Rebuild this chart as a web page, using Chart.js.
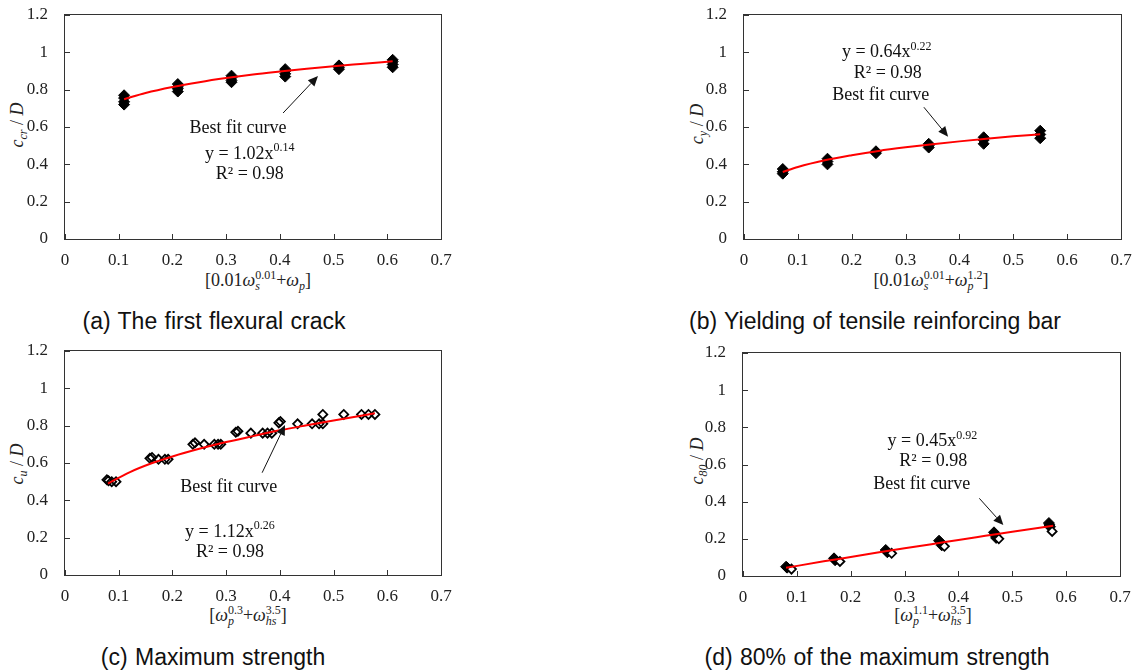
<!DOCTYPE html>
<html>
<head>
<meta charset="utf-8">
<script src="https://cdn.jsdelivr.net/npm/chart.js@4.4.0/dist/chart.umd.min.js"></script>
<style>
html,body{margin:0;padding:0;background:#fff;}
#wrap{position:relative;width:1137px;height:671px;overflow:hidden;background:#fff;}
#wrap canvas{position:absolute;}
.frame{position:absolute;box-sizing:border-box;border:1.5px solid #333;pointer-events:none;}
.lbl{position:absolute;white-space:nowrap;transform:translate(-50%,-50%);font-family:"Liberation Serif","Times New Roman",serif;color:#222;font-size:18px;line-height:1;}
.ytl{transform:translate(-50%,-50%) rotate(-90deg);}
.cap{position:absolute;white-space:nowrap;transform:translate(-50%,-50%);font-family:"Liberation Sans",Arial,sans-serif;font-size:23px;color:#111;line-height:1;word-spacing:1px;}
.ss{display:inline-block;vertical-align:-4px;line-height:11px;font-size:12px;text-align:left;}
.ss>span{display:block;}
.sb{font-size:12px;position:relative;top:4px;}
</style>
</head>
<body>
<div id="wrap">
  <div class="lbl ytl" style="left:17px;top:125px;"><i>c</i><span class="sb"><i>cr</i></span> / <i>D</i></div>
  <div class="lbl ytl" style="left:697px;top:124px;"><i>c</i><span class="sb"><i>y</i></span> / <i>D</i></div>
  <div class="lbl ytl" style="left:17px;top:464px;"><i>c</i><span class="sb"><i>u</i></span> / <i>D</i></div>
  <div class="lbl ytl" style="left:697px;top:461px;"><i>c</i><span class="sb"><i>80</i></span> / <i>D</i></div>

  <div class="lbl" style="left:258px;top:281px;">[0.01<i>ω</i><span class="ss"><span>0.01</span><span><i>s</i></span></span>+<i>ω</i><span class="sb"><i>p</i></span>]</div>
  <div class="lbl" style="left:931px;top:281px;">[0.01<i>ω</i><span class="ss"><span>0.01</span><span><i>s</i></span></span>+<i>ω</i><span class="ss"><span>1.2</span><span><i>p</i></span></span>]</div>
  <div class="lbl" style="left:248px;top:616px;">[<i>ω</i><span class="ss"><span>0.3</span><span><i>p</i></span></span>+<i>ω</i><span class="ss"><span>3.5</span><span><i>hs</i></span></span>]</div>
  <div class="lbl" style="left:933px;top:616px;">[<i>ω</i><span class="ss"><span>1.1</span><span><i>p</i></span></span>+<i>ω</i><span class="ss"><span>3.5</span><span><i>hs</i></span></span>]</div>

  <div class="cap" style="left:214px;top:321px;">(a) The first flexural crack</div>
  <div class="cap" style="left:875px;top:321px;">(b) Yielding of tensile reinforcing bar</div>
  <div class="cap" style="left:213px;top:657px;">(c) Maximum strength</div>
  <div class="cap" style="left:877px;top:657px;">(d) 80% of the maximum strength</div>
</div>
<script>
// ---------- tick labels ----------
const xTickLabels = ['0','0.1','0.2','0.3','0.4','0.5','0.6','0.7'];
const yTickLabels = ['0','0.2','0.4','0.6','0.8','1','1.2'];

// ---------- (a) first flexural crack ----------
const aPtX = [0.11,0.11,0.11,0.11, 0.21,0.21,0.21,0.21, 0.31,0.31,0.31,0.31, 0.41,0.41,0.41,0.41, 0.51,0.51,0.51, 0.61,0.61,0.61,0.61];
const aPtY = [0.72,0.735,0.755,0.77, 0.79,0.805,0.815,0.83, 0.84,0.85,0.865,0.875, 0.87,0.885,0.90,0.91, 0.91,0.92,0.93, 0.92,0.935,0.95,0.96];
const aFitX = [0.11,0.15,0.2,0.25,0.3,0.35,0.4,0.45,0.5,0.55,0.61];
const aFitY = [0.749,0.782,0.814,0.840,0.862,0.881,0.897,0.912,0.926,0.938,0.952];

// ---------- (b) yielding of tensile bar ----------
const bPtX = [0.072,0.072,0.072, 0.155,0.155,0.155, 0.245,0.245, 0.343,0.343,0.343, 0.445,0.445,0.445, 0.55,0.55,0.55];
const bPtY = [0.35,0.36,0.375, 0.40,0.415,0.43, 0.46,0.47, 0.49,0.50,0.51, 0.51,0.53,0.545, 0.54,0.56,0.58];
const bFitX = [0.072,0.1,0.15,0.2,0.25,0.3,0.35,0.4,0.45,0.5,0.55];
const bFitY = [0.359,0.386,0.422,0.449,0.472,0.491,0.508,0.523,0.537,0.550,0.561];

// ---------- (c) maximum strength ----------
const cPtX = [0.078,0.081,0.087,0.095, 0.158,0.162,0.174,0.186,0.192, 0.238,0.242,0.259,0.278,0.285,0.290, 0.318,0.322,0.346,0.368,0.377,0.385, 0.398,0.401,0.433,0.460,0.473,0.480,0.480, 0.519,0.552,0.565,0.577];
const cPtY = [0.51,0.505,0.50,0.50, 0.625,0.63,0.62,0.62,0.62, 0.70,0.708,0.70,0.70,0.70,0.70, 0.765,0.77,0.76,0.76,0.76,0.76, 0.815,0.822,0.81,0.81,0.81,0.81,0.86, 0.86,0.86,0.86,0.86];
const cFitX = [0.08,0.12,0.16,0.2,0.25,0.3,0.35,0.4,0.45,0.5,0.577];
const cFitY = [0.49,0.55,0.597,0.635,0.676,0.712,0.744,0.775,0.802,0.828,0.866];

// ---------- (d) 80% of maximum strength ----------
const dFillX = [0.080,0.082, 0.169,0.171, 0.265,0.268, 0.364,0.367,0.369, 0.466,0.468,0.470, 0.568,0.569,0.570];
const dFillY = [0.05,0.045, 0.095,0.085, 0.14,0.128, 0.19,0.178,0.165, 0.235,0.22,0.205, 0.285,0.275,0.265];
const dHolX = [0.090,0.180,0.276,0.374,0.475,0.574];
const dHolY = [0.037,0.078,0.122,0.160,0.200,0.240];
const dFitX = [0.08,0.15,0.2,0.25,0.3,0.35,0.4,0.45,0.5,0.576];
const dFitY = [0.044,0.079,0.102,0.126,0.149,0.171,0.194,0.216,0.238,0.271];

// ---------- helpers ----------
const pts = (xs, ys) => xs.map((x, i) => ({x: x, y: ys[i]}));
const SERIF = '"Liberation Serif","Times New Roman",serif';
const CW = 457, CH = 300, YW = 45, XH = 32;

function filledSet(xs, ys) {
  return {data: pts(xs, ys), pointStyle: 'rectRot', pointRadius: 5.5, backgroundColor: '#000', borderColor: '#000', borderWidth: 1, showLine: false, order: 2};
}
function hollowSet(xs, ys, fill) {
  return {data: pts(xs, ys), pointStyle: 'rectRot', pointRadius: 4.5, backgroundColor: fill, borderColor: '#000', borderWidth: 1.8, showLine: false, order: 1};
}
function fitSet(xs, ys) {
  return {data: pts(xs, ys), showLine: true, pointRadius: 0, borderColor: '#ff0000', borderWidth: 2, cubicInterpolationMode: 'monotone', fill: false, order: 0};
}

function notePlugin(n) {
  return {
    id: 'notes',
    afterDatasetsDraw(chart) {
      const ctx = chart.ctx, xs = chart.scales.x, ys = chart.scales.y;
      const X = v => xs.getPixelForValue(v), Y = v => ys.getPixelForValue(v);
      ctx.save();
      // inward tick marks, from the scales
      const L0 = X(xs.min), B0 = Y(ys.min);
      ctx.strokeStyle = '#333';
      ctx.lineWidth = 1;
      ctx.beginPath();
      xs.ticks.forEach(t => {
        const px = Math.round(X(t.value)) + 0.5;
        ctx.moveTo(px, B0); ctx.lineTo(px, B0 - 5);
      });
      ys.ticks.forEach(t => {
        const py = Math.round(Y(t.value)) + 0.5;
        ctx.moveTo(L0, py); ctx.lineTo(L0 + 5, py);
      });
      ctx.stroke();
      // arrow
      const x1 = X(n.arrow[0]), y1 = Y(n.arrow[1]), x2 = X(n.arrow[2]), y2 = Y(n.arrow[3]);
      const ang = Math.atan2(y2 - y1, x2 - x1), L = 10, W = 4.5;
      ctx.strokeStyle = '#111'; ctx.fillStyle = '#111'; ctx.lineWidth = 1;
      ctx.beginPath();
      ctx.moveTo(x1, y1);
      ctx.lineTo(x2 - L * Math.cos(ang), y2 - L * Math.sin(ang));
      ctx.stroke();
      ctx.beginPath();
      ctx.moveTo(x2, y2);
      ctx.lineTo(x2 - L * Math.cos(ang) + W * Math.sin(ang), y2 - L * Math.sin(ang) - W * Math.cos(ang));
      ctx.lineTo(x2 - L * Math.cos(ang) - W * Math.sin(ang), y2 - L * Math.sin(ang) + W * Math.cos(ang));
      ctx.closePath();
      ctx.fill();
      // texts
      ctx.textBaseline = 'middle';
      ctx.font = '18px ' + SERIF;
      ctx.textAlign = 'center';
      ctx.fillText('Best fit curve', X(n.bfc[0]), Y(n.bfc[1]));
      ctx.fillText('R\u00B2 = 0.98', X(n.r2[0]), Y(n.r2[1]));
      ctx.textAlign = 'left';
      const w1 = ctx.measureText(n.eq[0]).width;
      ctx.font = '12px ' + SERIF;
      const w2 = ctx.measureText(n.eq[1]).width;
      const cx = X(n.eqPos[0]), cy = Y(n.eqPos[1]);
      const x0 = cx - (w1 + w2) / 2;
      ctx.font = '18px ' + SERIF;
      ctx.fillText(n.eq[0], x0, cy);
      ctx.font = '12px ' + SERIF;
      ctx.fillText(n.eq[1], x0 + w1, cy - 6);
      ctx.restore();
    }
  };
}

function makeChart(cv, p, pad) {
  const tickFont = {family: SERIF, size: 17};
  const hiddenGrid = len => ({display: true, drawOnChartArea: false, drawTicks: true, tickLength: len, tickColor: 'rgba(0,0,0,0)'});
  return new Chart(cv, {
    type: 'scatter',
    data: {datasets: p.datasets},
    options: {
      responsive: false, animation: false, devicePixelRatio: 1, events: [],
      layout: {padding: Object.assign({}, pad)},
      plugins: {legend: {display: false}, tooltip: {enabled: false}},
      scales: {
        x: {
          type: 'linear', min: 0, max: 0.7,
          grid: hiddenGrid(11), border: {display: false},
          ticks: {stepSize: 0.1, padding: 0, color: '#222', font: tickFont, maxRotation: 0, autoSkip: false,
                  callback: v => xTickLabels[Math.round(v * 10)]},
          afterFit: s => { s.height = XH; }
        },
        y: {
          type: 'linear', min: 0, max: 1.2,
          grid: hiddenGrid(17), border: {display: false},
          ticks: {stepSize: 0.2, padding: 0, color: '#222', font: tickFont, autoSkip: false,
                  callback: v => yTickLabels[Math.round(v * 5)]},
          afterFit: s => { s.width = YW; }
        }
      }
    },
    plugins: [notePlugin(p.notes)]
  });
}

function build(p) {
  const wrap = document.getElementById('wrap');
  const cv = document.createElement('canvas');
  cv.width = CW; cv.height = CH;
  cv.style.left = p.cx + 'px'; cv.style.top = p.cy + 'px';
  cv.style.width = CW + 'px'; cv.style.height = CH + 'px';
  wrap.appendChild(cv);
  const want = {left: p.plot[0] - p.cx, top: p.plot[1] - p.cy, right: p.plot[2] - p.cx, bottom: p.plot[3] - p.cy};
  const pad = {left: want.left - YW, top: want.top, right: CW - want.right, bottom: CH - want.bottom - XH};
  let chart = makeChart(cv, p, pad);
  for (let k = 0; k < 3; k++) {
    const a = chart.chartArea;
    const dl = want.left - a.left, dt = want.top - a.top, dr = a.right - want.right, db = a.bottom - want.bottom;
    if (Math.abs(dl) < 0.3 && Math.abs(dt) < 0.3 && Math.abs(dr) < 0.3 && Math.abs(db) < 0.3) break;
    pad.left = Math.max(0, pad.left + dl); pad.top = Math.max(0, pad.top + dt);
    pad.right = Math.max(0, pad.right + dr); pad.bottom = Math.max(0, pad.bottom + db);
    chart.destroy();
    chart = makeChart(cv, p, pad);
  }
  // plot frame around the chart area reported by Chart.js
  const a = chart.chartArea;
  const fr = document.createElement('div');
  fr.className = 'frame';
  fr.style.left = (p.cx + a.left - 0.75) + 'px';
  fr.style.top = (p.cy + a.top - 0.75) + 'px';
  fr.style.width = (a.width + 1.5) + 'px';
  fr.style.height = (a.height + 1.5) + 'px';
  wrap.appendChild(fr);
}

build({cx: 0, cy: 0, plot: [65, 15, 441, 239],
  datasets: [fitSet(aFitX, aFitY), filledSet(aPtX, aPtY)],
  notes: {arrow: [0.406, 0.675, 0.471, 0.873], bfc: [0.322, 0.595], eq: ['y = 1.02x', '0.14'], eqPos: [0.344, 0.455], r2: [0.344, 0.348]}});

build({cx: 680, cy: 0, plot: [744, 15, 1121, 239],
  datasets: [fitSet(bFitX, bFitY), filledSet(bPtX, bPtY)],
  notes: {arrow: [0.334, 0.706, 0.379, 0.548], bfc: [0.254, 0.768], eq: ['y = 0.64x', '0.22'], eqPos: [0.265, 0.998], r2: [0.267, 0.888]}});

build({cx: 0, cy: 336, plot: [65, 351, 441, 575],
  datasets: [fitSet(cFitX, cFitY), hollowSet(cPtX, cPtY, 'rgba(255,255,255,0)')],
  notes: {arrow: [0.367, 0.548, 0.4096, 0.804], bfc: [0.305, 0.468], eq: ['y = 1.12x', '0.26'], eqPos: [0.307, 0.229], r2: [0.307, 0.122]}});

build({cx: 680, cy: 336, plot: [743, 353, 1120, 576],
  datasets: [fitSet(dFitX, dFitY), hollowSet(dHolX, dHolY, '#ffffff'), filledSet(dFillX, dFillY)],
  notes: {arrow: [0.4388, 0.418, 0.4834, 0.274], bfc: [0.332, 0.495], eq: ['y = 0.45x', '0.92'], eqPos: [0.3515, 0.7227], r2: [0.3534, 0.620]}});
</script>
</body>
</html>
